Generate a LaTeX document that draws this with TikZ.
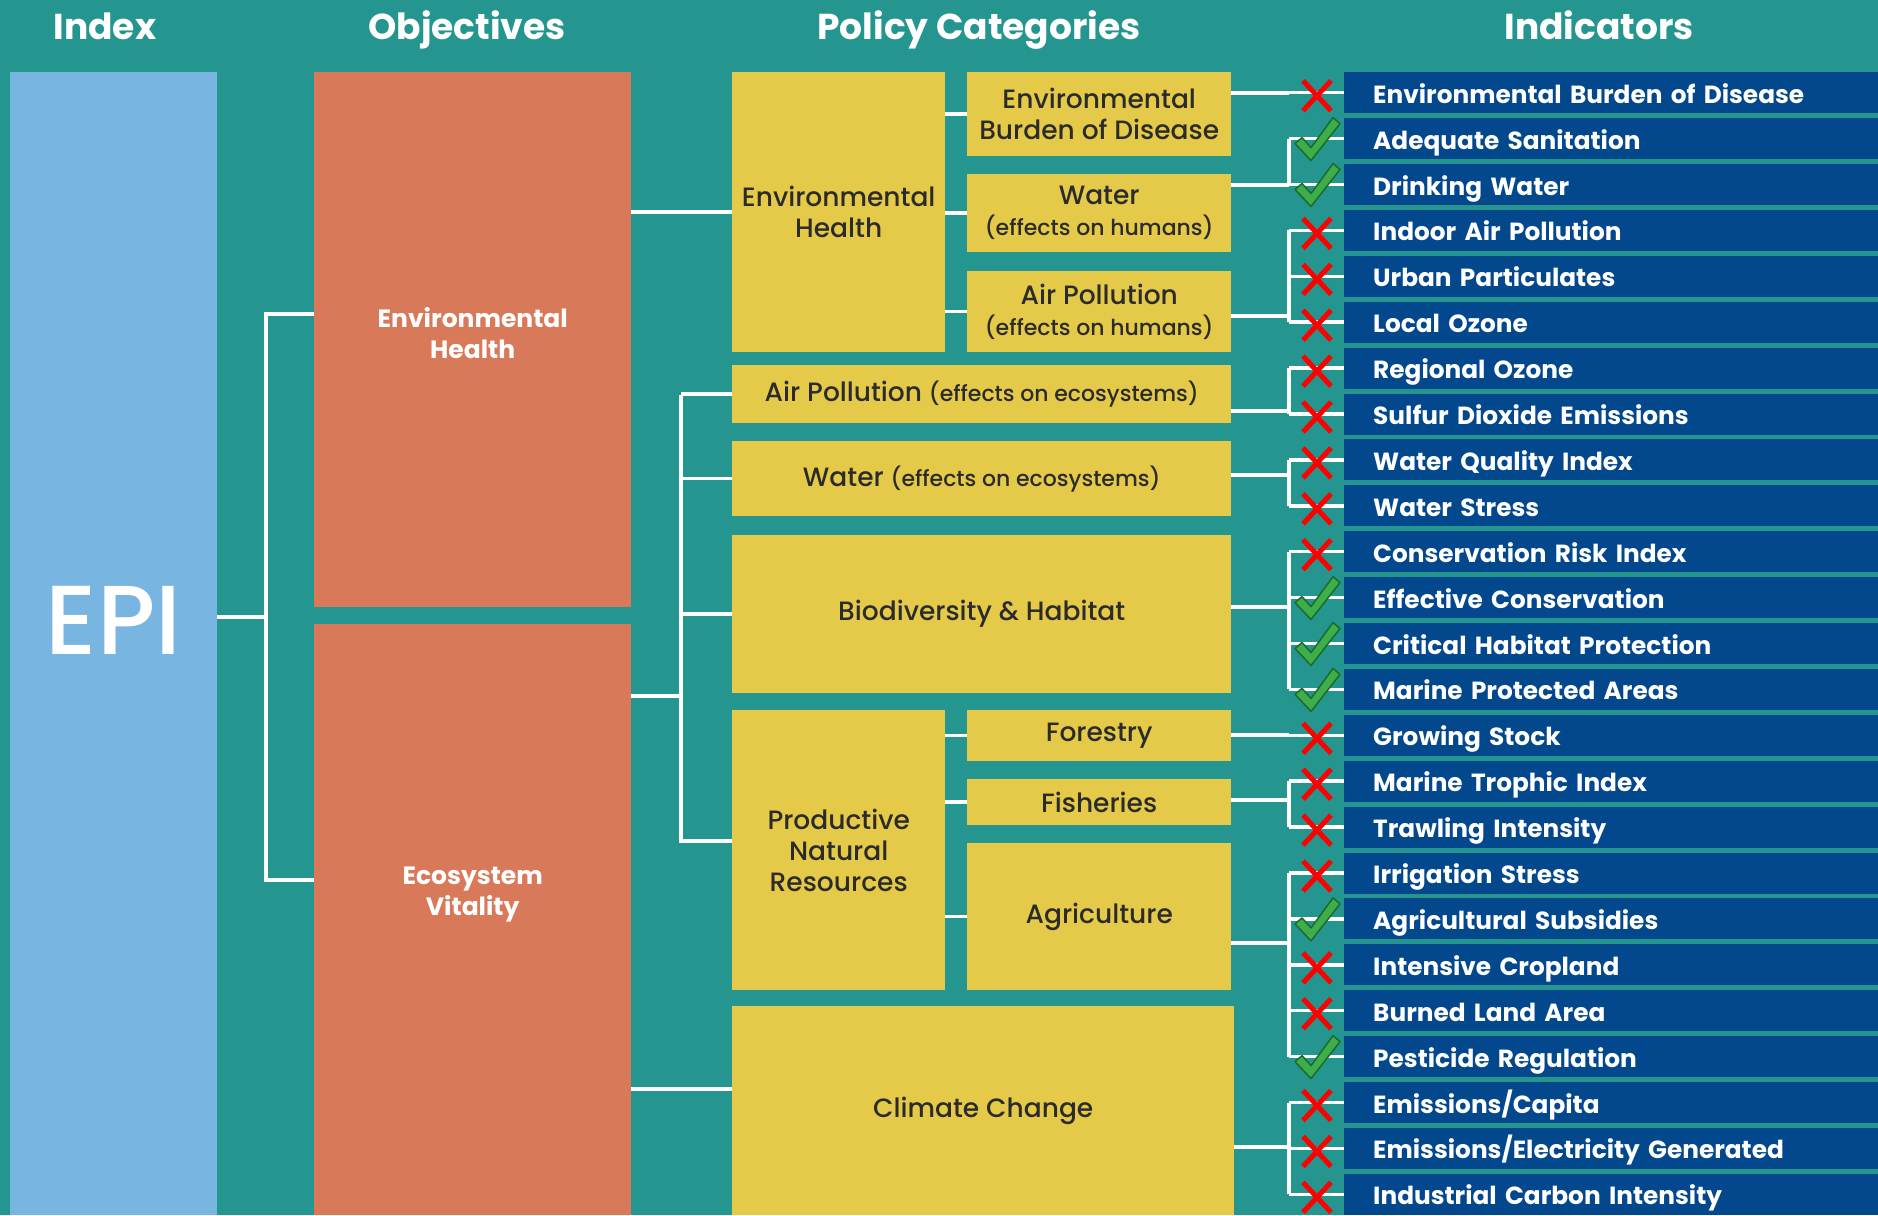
\documentclass[tikz,border=0pt]{standalone}
\usepackage{fontspec}
\setmainfont{Poppins}
\newfontfamily\medfont{Poppins Medium}
\usetikzlibrary{positioning}

\definecolor{bgteal}{HTML}{25968F}
\definecolor{epiblue}{HTML}{78B5E1}
\definecolor{objorange}{HTML}{D87A5A}
\definecolor{polyellow}{HTML}{E4CA48}
\definecolor{indblue}{HTML}{03478C}
\definecolor{polytext}{HTML}{2B2B2B}
\definecolor{okgreen}{HTML}{3DAE49}
\definecolor{okedge}{HTML}{1B6B2C}

\newcommand\fs[2]{\fontsize{#1}{#2}\selectfont}
\newcommand\sml{\fs{22}{26}}

\begin{document}
\begin{tikzpicture}[x=1pt,y=-1pt,
  head/.style={text=white,anchor=base,font=\fs{36}{40}\bfseries},
  obj/.style={fill=objorange,anchor=north west,inner sep=0pt,minimum width=317pt},
  objtxt/.style={text=white,font=\fs{25}{31}\bfseries,align=center},
  pol/.style={fill=polyellow,anchor=north west,inner sep=0pt,text=polytext,align=center,font=\fs{26.5}{31}\medfont},
  ind/.style={fill=indblue,anchor=north west,inner xsep=29pt,inner ysep=0pt,minimum height=41pt,
    text width=476pt,text height=25pt,text depth=4pt,align=left,text=white,font=\fs{24.8}{28}\bfseries},
  wire/.style={draw=white,line width=3.5pt},
  nomark/.style={draw=red,line width=5pt},
  okmark/.style={fill=okgreen,draw=okedge,line width=1.5pt,line join=round}]
\fill[bgteal] (0,0) rectangle (1878,1215);
\useasboundingbox (0,0) rectangle (1878,1215);

% column heads
\node[head] (hidx) at (105,40) {Index};
\node[head] (hobj) at (467,40) {Objectives};
\node[head] (hpol) at (979,40) {Policy Categories};
\node[head] (hind) at (1599,40) {Indicators};

% index and objectives
\node[fill=epiblue,anchor=north west,inner sep=0pt,minimum width=207pt,minimum height=1143pt,
  label={[text=white,font=\fs{98}{98}\medfont,yshift=23pt]center:EPI}] (epi) at (10,72) {};
\node[obj,minimum height=535pt,label={[objtxt,yshift=7pt]center:{Environmental\\Health}}] (oeh) at (314,72) {};
\node[obj,minimum height=591pt,label={[objtxt,yshift=25pt]center:{Ecosystem\\Vitality}}] (oev) at (314,624) {};

% policy categories
\foreach \n/\x/\y/\w/\h/\t in {
    peh/732/72/213/280/{Environmental\\Health},
    ebd/967/72/264/84/{Environmental\\Burden of Disease},
    wath/967/174/264/78/{Water\\{\sml(effects on humans)}},
    airh/967/271/264/81/{Air Pollution\\{\sml(effects on humans)}},
    aire/732/365/499/58/{Air Pollution {\sml(effects on ecosystems)}},
    wate/732/441/499/75/{Water {\sml(effects on ecosystems)}},
    biod/732/535/499/158/{Biodiversity \& Habitat},
    pnr/732/710/213/280/{Productive\\Natural\\Resources},
    fore/967/710/264/51/{Forestry},
    fish/967/779/264/46/{Fisheries},
    agri/967/843/264/147/{Agriculture},
    clim/732/1006/502/209/{Climate Change}}{
  \node[pol,minimum width=\w pt,minimum height=\h pt] (\n) at (\x,\y) {\t};
}

% indicators
\foreach \t [count=\i from 0] in {Environmental Burden of Disease,Adequate Sanitation,Drinking Water,
    Indoor Air Pollution,Urban Particulates,Local Ozone,Regional Ozone,Sulfur Dioxide Emissions,
    Water Quality Index,Water Stress,Conservation Risk Index,Effective Conservation,
    Critical Habitat Protection,Marine Protected Areas,Growing Stock,Marine Trophic Index,
    Trawling Intensity,Irrigation Stress,Agricultural Subsidies,Intensive Cropland,
    Burned Land Area,Pesticide Regulation,{Emissions/Capita},{Emissions/Electricity Generated},
    Industrial Carbon Intensity}{
  \node[ind] (i\i) at (1344,{72+45.9*\i}) {\t};
}

% tree lines
\draw[wire] (epi.east |- 0,617) -- (266,617);
\draw[wire] (oeh.west |- 0,314) -- (266,314) -- (266,880) -- (oev.west |- 0,880);
\draw[wire] (oeh.east |- peh.west) -- (peh.west);
\foreach \s in {ebd,wath,airh} \draw[wire] (peh.east |- \s.west) -- (\s.west);
\draw[wire] (oev.east |- 0,696) -- (681,696);
\draw[wire] (681,395) -- (681,841) -- (pnr.west |- 0,841);
\foreach \s in {aire,wate,biod} \draw[wire] (681,0 |- \s.west) -- (\s.west);
\draw[wire] (oev.east |- 0,1089) -- (clim.west |- 0,1089);
\foreach \s in {fore,fish,agri} \draw[wire] (pnr.east |- \s.west) -- (\s.west);
\foreach \s/\y/\a/\b in {ebd/93/0/0,wath/185/1/2,airh/316/3/5,aire/411/6/7,wate/475/8/9,
    biod/607/10/13,fore/735/14/14,fish/800/15/16,agri/943/17/21,clim/1147/22/24}{
  \draw[wire] (\s.east |- 0,\y) -- (1289,\y);
  \draw[wire] (1289,0 |- i\a.west) -- (1289,0 |- i\b.west);
  \foreach \k in {\a,...,\b} \draw[wire] (1289,0 |- i\k.west) -- (i\k.west);
}

% marks
\foreach \i in {0,3,4,5,6,7,8,9,10,14,15,16,17,19,20,22,23,24}
  \draw[nomark,shift={(i\i.west)}] (-41,-12) -- (-13,18) (-41,18) -- (-13,-12);
\foreach \i in {1,2,11,12,13,18,21}
  \filldraw[okmark,shift={(i\i.west)}] (-49,5) -- (-42,-1) -- (-33,9) -- (-11,-21) -- (-4,-15) -- (-33,22) -- cycle;
\end{tikzpicture}
\end{document}
